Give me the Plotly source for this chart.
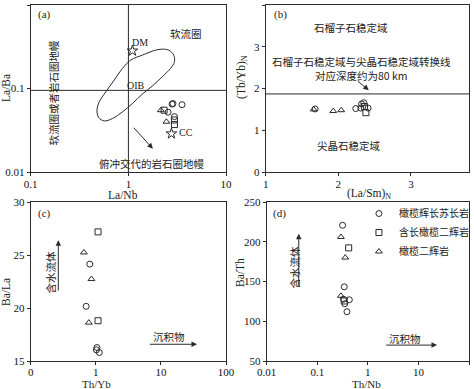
import numpy as np
import plotly.graph_objects as go

W, H = 474, 389
SERIF = "Liberation Serif, Times New Roman, Noto Sans CJK SC, serif"
CJK = "Noto Sans CJK SC, Liberation Serif, serif"
INK = "#2a2a2a"

# ---------------- data ----------------
# panel (a) La/Nb vs La/Ba
a_circle_x = [2.80, 2.86, 3.54, 2.55, 2.96]
a_circle_y = [0.065, 0.066, 0.064, 0.052, 0.046]
a_square_x = [2.32, 2.96, 2.96]
a_square_y = [0.055, 0.042, 0.037]
a_tri_x = [2.15, 2.45]
a_tri_y = [0.055, 0.040]
ref_names = ["DM", "CC"]
ref_x = [1.10, 2.76]
ref_y = [0.283, 0.0288]
oib_x = [0.477, 0.503, 0.587, 0.715, 0.869, 1.056, 1.387, 1.896, 2.218, 2.594, 2.91,
         2.96, 2.70, 2.22, 1.754, 1.387, 1.099, 0.869, 0.687, 0.566, 0.496, 0.477]
oib_y = [0.055, 0.0692, 0.0912, 0.126, 0.174, 0.219, 0.251, 0.288, 0.296, 0.288, 0.251,
         0.209, 0.174, 0.138, 0.107, 0.0855, 0.0661, 0.0525, 0.0437, 0.0409, 0.0449, 0.055]
a_hline = 0.095
a_vline = 1.0

# panel (b) (La/Sm)N vs (Tb/Yb)N
b_circle_x = [1.68, 2.24, 2.32, 2.35, 2.31, 2.41]
b_circle_y = [1.51, 1.52, 1.63, 1.66, 1.53, 1.53]
b_square_x = [2.38, 2.36]
b_square_y = [1.42, 1.57]
b_tri_x = [1.66, 1.93, 2.04]
b_tri_y = [1.50, 1.46, 1.48]
b_hline = 1.87

# panel (c) Th/Yb vs Ba/La
c_circle_x = [0.807, 0.71, 1.04, 1.02, 1.13]
c_circle_y = [24.14, 20.16, 16.27, 16.05, 15.8]
c_square_x = [1.08, 1.08]
c_square_y = [27.18, 18.8]
c_tri_x = [0.655, 0.855, 0.78]
c_tri_y = [25.24, 22.73, 18.62]

# panel (d) Th/Nb vs Ba/Th
d_circle_x = [0.316, 0.341, 0.33, 0.43, 0.35, 0.386]
d_circle_y = [220.7, 143.3, 127.7, 127.0, 122.0, 112.0]
d_square_x = [0.417, 0.341]
d_square_y = [192.3, 125.5]
d_tri_x = [0.293, 0.357, 0.293]
d_tri_y = [206.0, 180.1, 132.0]

legend_names = ["橄榄辉长苏长岩", "含长橄榄二辉岩", "橄榄二辉岩"]
symbols = ["circle-open", "square-open", "triangle-up-open"]

# ---------------- figure ----------------
fig = go.Figure()

def pts(x, y, sym, xa, ya, name=None, show=False, size=6):
    fig.add_trace(go.Scatter(x=x, y=y, mode="markers", xaxis=xa, yaxis=ya,
                             name=name, showlegend=show,
                             marker=dict(symbol=sym, size=size, color=INK,
                                         line=dict(color=INK, width=1))))

def line(x, y, xa, ya, shape="linear"):
    fig.add_trace(go.Scatter(x=x, y=y, mode="lines", xaxis=xa, yaxis=ya, showlegend=False,
                             line=dict(color=INK, width=1, shape=shape), hoverinfo="skip"))

# (a)
line([0.1, 10], [a_hline, a_hline], "x", "y")
line([a_vline, a_vline], [0.01, 1], "x", "y")
line(oib_x, oib_y, "x", "y", shape="spline")
pts(a_circle_x, a_circle_y, symbols[0], "x", "y")
pts(a_square_x, a_square_y, symbols[1], "x", "y")
pts(a_tri_x, a_tri_y, symbols[2], "x", "y")
pts(ref_x, ref_y, "star-open", "x", "y", size=8)

# (b)
line([1, 3.8], [b_hline, b_hline], "x2", "y2")
pts(b_circle_x, b_circle_y, symbols[0], "x2", "y2")
pts(b_square_x, b_square_y, symbols[1], "x2", "y2")
pts(b_tri_x, b_tri_y, symbols[2], "x2", "y2")

# (c)
pts(c_circle_x, c_circle_y, symbols[0], "x3", "y3")
pts(c_square_x, c_square_y, symbols[1], "x3", "y3")
pts(c_tri_x, c_tri_y, symbols[2], "x3", "y3")

# (d)
pts(d_circle_x, d_circle_y, symbols[0], "x4", "y4", name=legend_names[0], show=True)
pts(d_square_x, d_square_y, symbols[1], "x4", "y4", name=legend_names[1], show=True)
pts(d_tri_x, d_tri_y, symbols[2], "x4", "y4", name=legend_names[2], show=True)

def dom(p0, p1, total):
    return [p0 / total, p1 / total]

def ydom(top, bottom):
    return [1 - bottom / H, 1 - top / H]

axis_common = dict(showline=True, mirror=True, linecolor=INK, linewidth=1,
                   ticks="outside", ticklen=3, tickcolor=INK, showgrid=False,
                   zeroline=False, automargin=False,
                   tickfont=dict(family=SERIF, size=11, color="#111"))
xax_top = dict(axis_common, ticklabelstandoff=-1)
xax_bot = dict(axis_common, ticklabelstandoff=-2)

fig.update_layout(
    width=W, height=H, margin=dict(l=0, r=0, t=0, b=0),
    paper_bgcolor="white", plot_bgcolor="white",
    font=dict(family=SERIF, size=12, color="#111"),
    xaxis=dict(xax_top, type="log", range=[-1, 1], tickvals=[0.1, 1, 10],
               ticktext=["0.1", "1", "10"], domain=dom(31, 228, W), anchor="y"),
    yaxis=dict(axis_common, type="log", range=[-2, 0], tickvals=[0.01, 0.1, 1],
               ticktext=["0.01", "0.1", "1"], domain=ydom(5, 172), anchor="x"),
    xaxis2=dict(xax_top, range=[1, 3.8], tickvals=[1, 2, 3],
                domain=dom(268, 473, W), anchor="y2"),
    yaxis2=dict(axis_common, range=[0, 4], tickvals=[0, 1, 2, 3, 4],
                domain=ydom(5, 172), anchor="x2"),
    xaxis3=dict(xax_bot, type="log", range=[-1, 2], tickvals=[0.1, 1, 10, 100],
                ticktext=["0", "1", "10", "100"], domain=dom(31, 228, W), anchor="y3"),
    yaxis3=dict(axis_common, range=[15, 30], tickvals=[15, 20, 25, 30],
                domain=ydom(202, 361), anchor="x3"),
    xaxis4=dict(xax_bot, type="log", range=[-2, 2], tickvals=[0.01, 0.1, 1, 10, 100],
                ticktext=["0.01", "0.1", "1", "10", "100"], domain=dom(269, 473, W), anchor="y4"),
    yaxis4=dict(axis_common, range=[50, 250], tickvals=[50, 100, 150, 200, 250],
                domain=ydom(202, 361), anchor="x4"),
    legend=dict(x=362 / W, y=1 - 199 / H, xanchor="left", yanchor="top",
                bgcolor="rgba(0,0,0,0)", font=dict(family=CJK, size=10, color="#222"),
                itemwidth=30, tracegroupgap=0, borderwidth=0),
)

def P(xp, yp):
    return xp / W, 1 - yp / H

def txt(s, xp, yp, size=11, angle=0, family=CJK):
    x, y = P(xp, yp)
    fig.add_annotation(text=s, x=x, y=y, xref="paper", yref="paper", showarrow=False,
                       textangle=angle, font=dict(family=family, size=size, color="#222"),
                       xanchor="center", yanchor="middle", borderpad=0)

# axis titles
txt("La/Nb", 124, 195, 11.5, family=SERIF)
txt("La/Ba", 6, 88, 11.5, -90, family=SERIF)
txt("(La/Sm)<sub>N</sub>", 372, 194, 11.5, family=SERIF)
txt("(Tb/Yb)<sub>N</sub>", 244, 77, 11.5, -90, family=SERIF)
txt("Th/Yb", 97, 383.5, 11, family=SERIF)
txt("Ba/La", 6, 292, 11.5, -90, family=SERIF)
txt("Th/Nb", 370, 383.5, 11, family=SERIF)
txt("Ba/Th", 242, 272, 11.5, -90, family=SERIF)

# panel labels
txt("(a)", 45, 14, 11, family=SERIF)
txt("(b)", 283, 14, 11, family=SERIF)
txt("(c)", 45, 213, 11, family=SERIF)
txt("(d)", 282, 213, 11, family=SERIF)

# panel (a) texts
txt("软流圈", 188, 34, 10.5)
txt("软流圈或者岩石圈地幔", 53, 93, 10.5, -90)
txt("DM", 141, 43, 10, family=SERIF)
txt("OIB", 137, 85, 10, family=SERIF)
txt("CC", 188, 132, 10, family=SERIF)
txt("俯冲交代的岩石圈地幔", 153, 163, 10.5)

# panel (b) texts
txt("石榴子石稳定域", 354, 27, 10.5)
txt("石榴子石稳定域与尖晶石稳定域转换线<br>对应深度约为80 km", 365, 68.5, 10.5)
txt("尖晶石稳定域", 352, 145, 10.5)

# panel (c)/(d) texts
txt("含水流体", 50, 272, 10.5, -90)
txt("沉积物", 170, 336, 10.5)
txt("含水流体", 296, 267, 10.5, -90)
txt("沉积物", 408, 338, 10.5)

L = np.log10

def arrow(x0, y0, x1, y1, xa, ya, logx=False, logy=False):
    if logx:
        x0, x1 = L(x0), L(x1)
    if logy:
        y0, y1 = L(y0), L(y1)
    fig.add_annotation(x=x1, y=y1, ax=x0, ay=y0, xref=xa, yref=ya, axref=xa, ayref=ya,
                       showarrow=True, arrowhead=2, arrowsize=1.1, arrowwidth=1,
                       arrowcolor=INK, text="")

arrow(1.10, 0.0353, 1.78, 0.019, "x", "y", logx=True, logy=True)
arrow(2.25, 2.20, 2.42, 1.96, "x2", "y2")
arrow(0.265, 21.5, 0.265, 26.4, "x3", "y3", logx=True)
arrow(6.4, 16.58, 35.8, 16.58, "x3", "y3", logx=True)
arrow(0.043, 143, 0.043, 210, "x4", "y4", logx=True)
arrow(2.15, 70, 23.3, 70, "x4", "y4", logx=True)

fig.write_html("out.html", config={"displayModeBar": False},
               post_script="document.body.style.margin='0';document.body.style.overflow='hidden';")
